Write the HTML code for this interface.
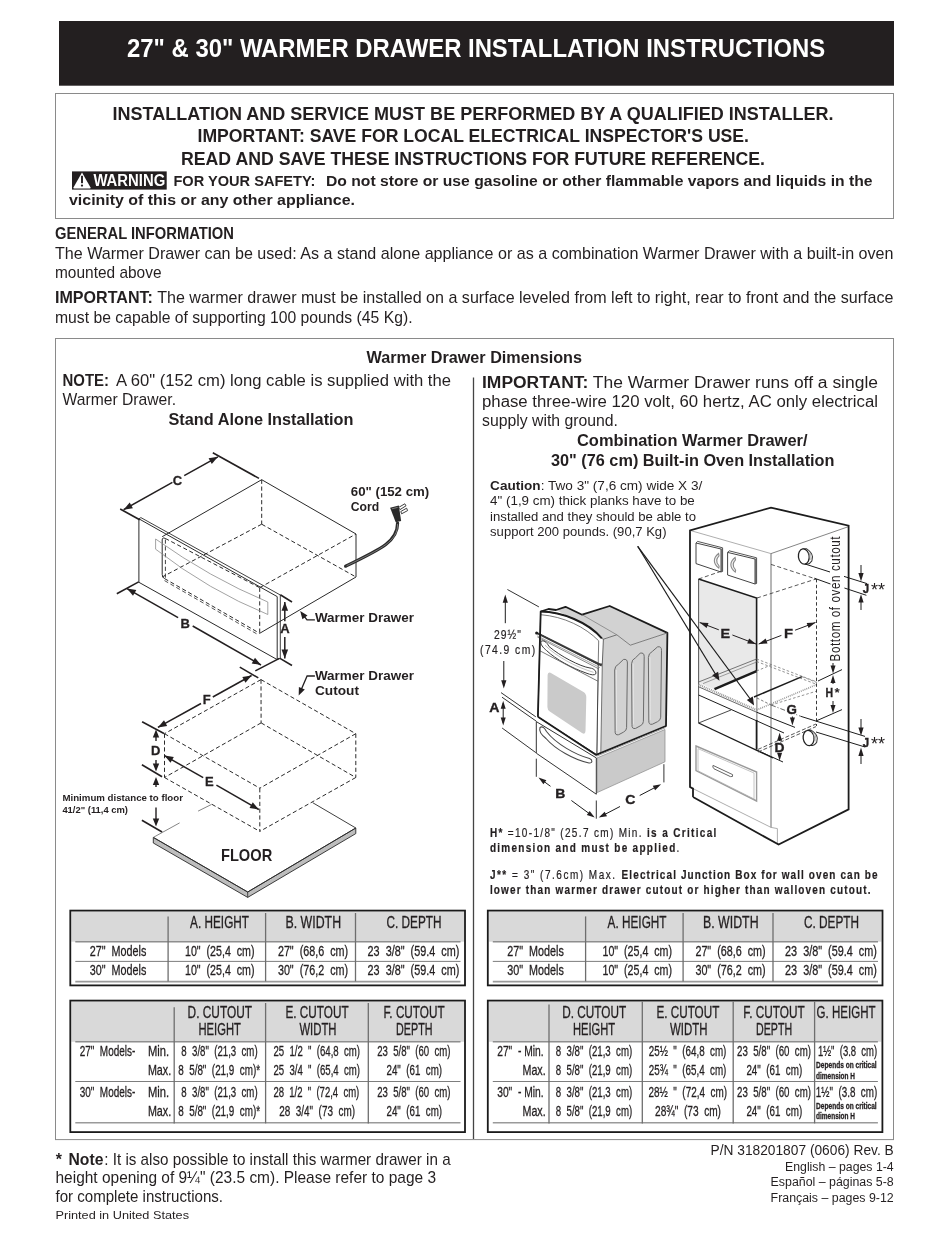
<!DOCTYPE html>
<html><head><meta charset="utf-8"><title>27" &amp; 30" Warmer Drawer Installation Instructions</title>
<style>
html,body{margin:0;padding:0;background:#fff;}
body{width:950px;height:1240px;overflow:hidden;font-family:"Liberation Sans",sans-serif;}
svg{display:block;will-change:transform;font-family:"Liberation Sans",sans-serif;}
text{white-space:pre;}
</style></head><body>
<svg width="950" height="1240" viewBox="0 0 950 1240">
<rect x="59" y="21" width="835" height="64.7" fill="#231f20"/>
<text x="127.0" y="56.7" font-size="26.2" font-weight="bold" fill="#fff" textLength="698.2" lengthAdjust="spacingAndGlyphs" >27" &amp; 30" WARMER DRAWER INSTALLATION INSTRUCTIONS</text>
<rect x="55.5" y="93.5" width="838" height="125" fill="none" stroke="#8a8a8a" stroke-width="1"/>
<text x="112.5" y="119.6" font-size="18.2" font-weight="bold" fill="#231f20" textLength="721.0" lengthAdjust="spacingAndGlyphs" >INSTALLATION AND SERVICE MUST BE PERFORMED BY A QUALIFIED INSTALLER.</text>
<text x="197.5" y="142.4" font-size="18.2" font-weight="bold" fill="#231f20" textLength="551.5" lengthAdjust="spacingAndGlyphs" >IMPORTANT: SAVE FOR LOCAL ELECTRICAL INSPECTOR'S USE.</text>
<text x="181.0" y="165.2" font-size="18.2" font-weight="bold" fill="#231f20" textLength="584.0" lengthAdjust="spacingAndGlyphs" >READ AND SAVE THESE INSTRUCTIONS FOR FUTURE REFERENCE.</text>
<rect x="72" y="171.4" width="94.7" height="18.2" fill="#231f20"/>
<path d="M82,172.6 L90.4,187.2 Q91,188.5 89.8,188.5 L74.2,188.5 Q73,188.5 73.6,187.2 Z" fill="#fff"/>
<rect x="81.05" y="175.8" width="1.9" height="7.4" fill="#231f20"/><circle cx="82" cy="185.6" r="1.15" fill="#231f20"/>
<text x="93.4" y="185.9" font-size="15.8" font-weight="bold" fill="#fff" textLength="71.8" lengthAdjust="spacingAndGlyphs" >WARNING</text>
<text x="173.4" y="186.1" font-size="15.2" font-weight="bold" fill="#231f20" textLength="142.1" lengthAdjust="spacingAndGlyphs" >FOR YOUR SAFETY:</text>
<text x="326.0" y="186.1" font-size="15.2" font-weight="bold" fill="#231f20" textLength="546.5" lengthAdjust="spacingAndGlyphs" >Do not store or use gasoline or other flammable vapors and liquids in the</text>
<text x="69.0" y="205.2" font-size="15" font-weight="bold" fill="#231f20" textLength="286.0" lengthAdjust="spacingAndGlyphs" >vicinity of this or any other appliance.</text>
<text x="55.0" y="239.2" font-size="15.9" font-weight="bold" fill="#231f20" textLength="179.0" lengthAdjust="spacingAndGlyphs" >GENERAL INFORMATION</text>
<text x="55.0" y="258.7" font-size="15.9" font-weight="normal" fill="#231f20" textLength="838.5" lengthAdjust="spacingAndGlyphs" >The Warmer Drawer can be used: As a stand alone appliance or as a combination Warmer Drawer with a built-in oven</text>
<text x="55.0" y="277.6" font-size="15.9" font-weight="normal" fill="#231f20" textLength="106.5" lengthAdjust="spacingAndGlyphs" >mounted above</text>
<text x="55.0" y="303.2" font-size="15.9" font-weight="normal" fill="#231f20" textLength="838.5" lengthAdjust="spacingAndGlyphs" ><tspan font-weight="bold">IMPORTANT:</tspan> The warmer drawer must be installed on a surface leveled from left to right, rear to front and the surface</text>
<text x="55.0" y="322.6" font-size="15.9" font-weight="normal" fill="#231f20" textLength="357.5" lengthAdjust="spacingAndGlyphs" >must be capable of supporting 100 pounds (45 Kg).</text>
<rect x="55.5" y="338.5" width="838" height="801.1" fill="none" stroke="#8a8a8a" stroke-width="1"/>
<line x1="473.5" y1="377.6" x2="473.5" y2="1139.0" stroke="#444" stroke-width="1.3" stroke-linecap="butt"/>
<text x="366.5" y="362.5" font-size="16.5" font-weight="bold" fill="#231f20" textLength="215.5" lengthAdjust="spacingAndGlyphs" >Warmer Drawer Dimensions</text>
<text x="62.5" y="386.0" font-size="15.9" font-weight="bold" fill="#231f20" textLength="46.5" lengthAdjust="spacingAndGlyphs" >NOTE:</text>
<text x="116.0" y="386.0" font-size="15.9" font-weight="normal" fill="#231f20" textLength="335.0" lengthAdjust="spacingAndGlyphs" >A 60" (152 cm) long cable is supplied with the</text>
<text x="62.5" y="405.0" font-size="15.9" font-weight="normal" fill="#231f20" textLength="113.5" lengthAdjust="spacingAndGlyphs" >Warmer Drawer.</text>
<text x="168.5" y="424.5" font-size="16.5" font-weight="bold" fill="#231f20" textLength="185.0" lengthAdjust="spacingAndGlyphs" >Stand Alone Installation</text>
<text x="482.0" y="387.5" font-size="16" font-weight="normal" fill="#231f20" textLength="396.0" lengthAdjust="spacingAndGlyphs" ><tspan font-weight="bold">IMPORTANT:</tspan> The Warmer Drawer runs off a single</text>
<text x="482.0" y="407.0" font-size="16" font-weight="normal" fill="#231f20" textLength="396.0" lengthAdjust="spacingAndGlyphs" >phase three-wire 120 volt, 60 hertz, AC only electrical</text>
<text x="482.0" y="426.0" font-size="16" font-weight="normal" fill="#231f20" textLength="136.0" lengthAdjust="spacingAndGlyphs" >supply with ground.</text>
<text x="577.0" y="446.0" font-size="16.5" font-weight="bold" fill="#231f20" textLength="230.5" lengthAdjust="spacingAndGlyphs" >Combination Warmer Drawer/</text>
<text x="551.0" y="465.5" font-size="16.5" font-weight="bold" fill="#231f20" textLength="283.5" lengthAdjust="spacingAndGlyphs" >30" (76 cm) Built-in Oven Installation</text>
<text x="55.8" y="1164.7" font-size="15.9" font-weight="bold" fill="#231f20">*</text>
<text x="68.5" y="1164.7" font-size="15.9" font-weight="bold" fill="#231f20" textLength="34.9" lengthAdjust="spacingAndGlyphs" >Note</text>
<text x="104.3" y="1164.7" font-size="15.9" font-weight="normal" fill="#231f20" textLength="346.3" lengthAdjust="spacingAndGlyphs" >: It is also possible to install this warmer drawer in a</text>
<text x="55.5" y="1183.2" font-size="15.9" font-weight="normal" fill="#231f20" textLength="380.5" lengthAdjust="spacingAndGlyphs" >height opening of 9¼" (23.5 cm). Please refer to page 3</text>
<text x="55.5" y="1202.2" font-size="15.9" font-weight="normal" fill="#231f20" textLength="167.5" lengthAdjust="spacingAndGlyphs" >for complete instructions.</text>
<text x="55.5" y="1218.9" font-size="11" font-weight="normal" fill="#231f20" textLength="133.5" lengthAdjust="spacingAndGlyphs" >Printed in United States</text>
<text x="710.5" y="1155.0" font-size="14" font-weight="normal" fill="#231f20" textLength="183.2" lengthAdjust="spacingAndGlyphs" >P/N 318201807 (0606) Rev. B</text>
<text x="785.0" y="1171.3" font-size="12" font-weight="normal" fill="#231f20" textLength="108.7" lengthAdjust="spacingAndGlyphs" >English – pages 1-4</text>
<text x="770.6" y="1186.0" font-size="12" font-weight="normal" fill="#231f20" textLength="123.1" lengthAdjust="spacingAndGlyphs" >Español – páginas 5-8</text>
<text x="770.6" y="1201.8" font-size="12" font-weight="normal" fill="#231f20" textLength="123.1" lengthAdjust="spacingAndGlyphs" >Français – pages 9-12</text>
<g stroke="#231f20" stroke-width="0.3">
<rect x="71.3" y="911.6" width="392.7" height="30.1" fill="#d9d9d9" stroke="none"/>
<rect x="70.3" y="910.6" width="394.7" height="74.8" fill="none" stroke="#1a1a1a" stroke-width="1.8"/>
<line x1="75.3" y1="941.7" x2="460.5" y2="941.7" stroke="#8e8e8e" stroke-width="1.6" stroke-linecap="butt"/>
<line x1="75.3" y1="961.4" x2="460.5" y2="961.4" stroke="#6e6e6e" stroke-width="0.9" stroke-linecap="butt"/>
<line x1="75.3" y1="981.6" x2="460.5" y2="981.6" stroke="#9a9a9a" stroke-width="1.6" stroke-linecap="butt"/>
<line x1="168.1" y1="916.4" x2="168.1" y2="981.4" stroke="#6e6e6e" stroke-width="1.3" stroke-linecap="butt"/>
<line x1="265.6" y1="913.0" x2="265.6" y2="981.4" stroke="#6e6e6e" stroke-width="1.3" stroke-linecap="butt"/>
<line x1="355.5" y1="913.0" x2="355.5" y2="981.4" stroke="#6e6e6e" stroke-width="1.3" stroke-linecap="butt"/>
<text x="190.1" y="928.3" font-size="15.6" font-weight="normal" fill="#231f20" textLength="58.9" lengthAdjust="spacingAndGlyphs" >A. HEIGHT</text>
<text x="285.5" y="928.3" font-size="15.6" font-weight="normal" fill="#231f20" textLength="55.6" lengthAdjust="spacingAndGlyphs" >B. WIDTH</text>
<text x="386.5" y="928.3" font-size="15.6" font-weight="normal" fill="#231f20" textLength="55.1" lengthAdjust="spacingAndGlyphs" >C. DEPTH</text>
<text x="89.8" y="955.6" font-size="14.8" font-weight="normal" fill="#231f20" textLength="56.6" lengthAdjust="spacingAndGlyphs" >27"  Models</text>
<text x="185.0" y="955.6" font-size="14.8" font-weight="normal" fill="#231f20" textLength="69.5" lengthAdjust="spacingAndGlyphs" >10"  (25,4  cm)</text>
<text x="277.9" y="955.6" font-size="14.8" font-weight="normal" fill="#231f20" textLength="70.2" lengthAdjust="spacingAndGlyphs" >27"  (68,6  cm)</text>
<text x="367.6" y="955.6" font-size="14.8" font-weight="normal" fill="#231f20" textLength="91.7" lengthAdjust="spacingAndGlyphs" >23  3/8"  (59.4  cm)</text>
<text x="89.8" y="975.0" font-size="14.8" font-weight="normal" fill="#231f20" textLength="56.6" lengthAdjust="spacingAndGlyphs" >30"  Models</text>
<text x="185.0" y="975.0" font-size="14.8" font-weight="normal" fill="#231f20" textLength="69.5" lengthAdjust="spacingAndGlyphs" >10"  (25,4  cm)</text>
<text x="277.9" y="975.0" font-size="14.8" font-weight="normal" fill="#231f20" textLength="70.2" lengthAdjust="spacingAndGlyphs" >30"  (76,2  cm)</text>
<text x="367.6" y="975.0" font-size="14.8" font-weight="normal" fill="#231f20" textLength="91.7" lengthAdjust="spacingAndGlyphs" >23  3/8"  (59.4  cm)</text>
<rect x="488.8" y="911.6" width="392.7" height="30.1" fill="#d9d9d9" stroke="none"/>
<rect x="487.8" y="910.6" width="394.7" height="74.8" fill="none" stroke="#1a1a1a" stroke-width="1.8"/>
<line x1="492.8" y1="941.7" x2="878.0" y2="941.7" stroke="#8e8e8e" stroke-width="1.6" stroke-linecap="butt"/>
<line x1="492.8" y1="961.4" x2="878.0" y2="961.4" stroke="#6e6e6e" stroke-width="0.9" stroke-linecap="butt"/>
<line x1="492.8" y1="981.6" x2="878.0" y2="981.6" stroke="#9a9a9a" stroke-width="1.6" stroke-linecap="butt"/>
<line x1="585.6" y1="916.4" x2="585.6" y2="981.4" stroke="#6e6e6e" stroke-width="1.3" stroke-linecap="butt"/>
<line x1="683.1" y1="913.0" x2="683.1" y2="981.4" stroke="#6e6e6e" stroke-width="1.3" stroke-linecap="butt"/>
<line x1="773.0" y1="913.0" x2="773.0" y2="981.4" stroke="#6e6e6e" stroke-width="1.3" stroke-linecap="butt"/>
<text x="607.6" y="928.3" font-size="15.6" font-weight="normal" fill="#231f20" textLength="58.9" lengthAdjust="spacingAndGlyphs" >A. HEIGHT</text>
<text x="703.0" y="928.3" font-size="15.6" font-weight="normal" fill="#231f20" textLength="55.6" lengthAdjust="spacingAndGlyphs" >B. WIDTH</text>
<text x="804.0" y="928.3" font-size="15.6" font-weight="normal" fill="#231f20" textLength="55.1" lengthAdjust="spacingAndGlyphs" >C. DEPTH</text>
<text x="507.3" y="955.6" font-size="14.8" font-weight="normal" fill="#231f20" textLength="56.6" lengthAdjust="spacingAndGlyphs" >27"  Models</text>
<text x="602.5" y="955.6" font-size="14.8" font-weight="normal" fill="#231f20" textLength="69.5" lengthAdjust="spacingAndGlyphs" >10"  (25,4  cm)</text>
<text x="695.4" y="955.6" font-size="14.8" font-weight="normal" fill="#231f20" textLength="70.2" lengthAdjust="spacingAndGlyphs" >27"  (68,6  cm)</text>
<text x="785.1" y="955.6" font-size="14.8" font-weight="normal" fill="#231f20" textLength="91.7" lengthAdjust="spacingAndGlyphs" >23  3/8"  (59.4  cm)</text>
<text x="507.3" y="975.0" font-size="14.8" font-weight="normal" fill="#231f20" textLength="56.6" lengthAdjust="spacingAndGlyphs" >30"  Models</text>
<text x="602.5" y="975.0" font-size="14.8" font-weight="normal" fill="#231f20" textLength="69.5" lengthAdjust="spacingAndGlyphs" >10"  (25,4  cm)</text>
<text x="695.4" y="975.0" font-size="14.8" font-weight="normal" fill="#231f20" textLength="70.2" lengthAdjust="spacingAndGlyphs" >30"  (76,2  cm)</text>
<text x="785.1" y="975.0" font-size="14.8" font-weight="normal" fill="#231f20" textLength="91.7" lengthAdjust="spacingAndGlyphs" >23  3/8"  (59.4  cm)</text>
<rect x="71.3" y="1001.6" width="392.7" height="40.2" fill="#d9d9d9" stroke="none"/>
<rect x="70.3" y="1000.6" width="394.7" height="131.5" fill="none" stroke="#1a1a1a" stroke-width="1.8"/>
<line x1="75.3" y1="1041.8" x2="460.5" y2="1041.8" stroke="#8e8e8e" stroke-width="1.6" stroke-linecap="butt"/>
<line x1="75.3" y1="1081.5" x2="460.5" y2="1081.5" stroke="#6e6e6e" stroke-width="0.9" stroke-linecap="butt"/>
<line x1="75.3" y1="1122.8" x2="460.5" y2="1122.8" stroke="#9a9a9a" stroke-width="1.6" stroke-linecap="butt"/>
<line x1="174.2" y1="1007.2" x2="174.2" y2="1123.4" stroke="#6e6e6e" stroke-width="1.3" stroke-linecap="butt"/>
<line x1="265.6" y1="1003.0" x2="265.6" y2="1123.4" stroke="#6e6e6e" stroke-width="1.3" stroke-linecap="butt"/>
<line x1="368.3" y1="1003.0" x2="368.3" y2="1123.4" stroke="#6e6e6e" stroke-width="1.3" stroke-linecap="butt"/>
<text x="187.6" y="1017.8" font-size="15.6" font-weight="normal" fill="#231f20" textLength="64.4" lengthAdjust="spacingAndGlyphs" >D. CUTOUT</text>
<text x="198.5" y="1035.0" font-size="15.6" font-weight="normal" fill="#231f20" textLength="42.4" lengthAdjust="spacingAndGlyphs" >HEIGHT</text>
<text x="285.5" y="1017.8" font-size="15.6" font-weight="normal" fill="#231f20" textLength="63.1" lengthAdjust="spacingAndGlyphs" >E. CUTOUT</text>
<text x="299.4" y="1035.0" font-size="15.6" font-weight="normal" fill="#231f20" textLength="37.1" lengthAdjust="spacingAndGlyphs" >WIDTH</text>
<text x="383.5" y="1017.8" font-size="15.6" font-weight="normal" fill="#231f20" textLength="61.1" lengthAdjust="spacingAndGlyphs" >F. CUTOUT</text>
<text x="396.1" y="1035.0" font-size="15.6" font-weight="normal" fill="#231f20" textLength="36.4" lengthAdjust="spacingAndGlyphs" >DEPTH</text>
<text x="79.7" y="1056.2" font-size="14.8" font-weight="normal" fill="#231f20" textLength="55.6" lengthAdjust="spacingAndGlyphs" >27"  Models-</text>
<text x="147.9" y="1056.2" font-size="14.8" font-weight="normal" fill="#231f20" textLength="21.2" lengthAdjust="spacingAndGlyphs" >Min.</text>
<text x="181.3" y="1056.2" font-size="14.8" font-weight="normal" fill="#231f20" textLength="76.3" lengthAdjust="spacingAndGlyphs" >8  3/8"  (21,3  cm)</text>
<text x="273.4" y="1056.2" font-size="14.8" font-weight="normal" fill="#231f20" textLength="86.6" lengthAdjust="spacingAndGlyphs" >25  1/2  "  (64,8  cm)</text>
<text x="377.2" y="1056.2" font-size="14.8" font-weight="normal" fill="#231f20" textLength="73.3" lengthAdjust="spacingAndGlyphs" >23  5/8"  (60  cm)</text>
<text x="147.9" y="1074.6" font-size="14.8" font-weight="normal" fill="#231f20" textLength="23.3" lengthAdjust="spacingAndGlyphs" >Max.</text>
<text x="178.2" y="1074.6" font-size="14.8" font-weight="normal" fill="#231f20" textLength="81.9" lengthAdjust="spacingAndGlyphs" >8  5/8"  (21,9  cm)*</text>
<text x="273.4" y="1074.6" font-size="14.8" font-weight="normal" fill="#231f20" textLength="86.6" lengthAdjust="spacingAndGlyphs" >25  3/4  "  (65,4  cm)</text>
<text x="386.5" y="1074.6" font-size="14.8" font-weight="normal" fill="#231f20" textLength="55.6" lengthAdjust="spacingAndGlyphs" >24"  (61  cm)</text>
<text x="79.7" y="1096.6" font-size="14.8" font-weight="normal" fill="#231f20" textLength="55.6" lengthAdjust="spacingAndGlyphs" >30"  Models-</text>
<text x="147.9" y="1096.6" font-size="14.8" font-weight="normal" fill="#231f20" textLength="21.2" lengthAdjust="spacingAndGlyphs" >Min.</text>
<text x="181.3" y="1096.6" font-size="14.8" font-weight="normal" fill="#231f20" textLength="76.3" lengthAdjust="spacingAndGlyphs" >8  3/8"  (21,3  cm)</text>
<text x="273.4" y="1096.6" font-size="14.8" font-weight="normal" fill="#231f20" textLength="85.9" lengthAdjust="spacingAndGlyphs" >28  1/2  "  (72,4  cm)</text>
<text x="377.2" y="1096.6" font-size="14.8" font-weight="normal" fill="#231f20" textLength="73.3" lengthAdjust="spacingAndGlyphs" >23  5/8"  (60  cm)</text>
<text x="147.9" y="1115.8" font-size="14.8" font-weight="normal" fill="#231f20" textLength="23.3" lengthAdjust="spacingAndGlyphs" >Max.</text>
<text x="178.2" y="1115.8" font-size="14.8" font-weight="normal" fill="#231f20" textLength="81.9" lengthAdjust="spacingAndGlyphs" >8  5/8"  (21,9  cm)*</text>
<text x="279.2" y="1115.8" font-size="14.8" font-weight="normal" fill="#231f20" textLength="75.8" lengthAdjust="spacingAndGlyphs" >28  3/4"  (73  cm)</text>
<text x="386.5" y="1115.8" font-size="14.8" font-weight="normal" fill="#231f20" textLength="55.6" lengthAdjust="spacingAndGlyphs" >24"  (61  cm)</text>
<rect x="488.8" y="1001.6" width="392.6" height="40.2" fill="#d9d9d9" stroke="none"/>
<rect x="487.8" y="1000.6" width="394.6" height="131.5" fill="none" stroke="#1a1a1a" stroke-width="1.8"/>
<line x1="492.8" y1="1041.8" x2="877.9" y2="1041.8" stroke="#8e8e8e" stroke-width="1.6" stroke-linecap="butt"/>
<line x1="492.8" y1="1081.5" x2="877.9" y2="1081.5" stroke="#6e6e6e" stroke-width="0.9" stroke-linecap="butt"/>
<line x1="492.8" y1="1122.8" x2="877.9" y2="1122.8" stroke="#9a9a9a" stroke-width="1.6" stroke-linecap="butt"/>
<line x1="549.0" y1="1004.5" x2="549.0" y2="1123.4" stroke="#6e6e6e" stroke-width="1.3" stroke-linecap="butt"/>
<line x1="642.3" y1="1001.6" x2="642.3" y2="1123.4" stroke="#6e6e6e" stroke-width="1.3" stroke-linecap="butt"/>
<line x1="733.2" y1="1001.6" x2="733.2" y2="1123.4" stroke="#6e6e6e" stroke-width="1.3" stroke-linecap="butt"/>
<line x1="814.6" y1="1001.6" x2="814.6" y2="1123.4" stroke="#6e6e6e" stroke-width="1.3" stroke-linecap="butt"/>
<text x="562.2" y="1017.8" font-size="15.6" font-weight="normal" fill="#231f20" textLength="63.9" lengthAdjust="spacingAndGlyphs" >D. CUTOUT</text>
<text x="573.0" y="1035.0" font-size="15.6" font-weight="normal" fill="#231f20" textLength="42.2" lengthAdjust="spacingAndGlyphs" >HEIGHT</text>
<text x="656.4" y="1017.8" font-size="15.6" font-weight="normal" fill="#231f20" textLength="62.9" lengthAdjust="spacingAndGlyphs" >E. CUTOUT</text>
<text x="670.0" y="1035.0" font-size="15.6" font-weight="normal" fill="#231f20" textLength="37.4" lengthAdjust="spacingAndGlyphs" >WIDTH</text>
<text x="743.3" y="1017.8" font-size="15.6" font-weight="normal" fill="#231f20" textLength="61.4" lengthAdjust="spacingAndGlyphs" >F. CUTOUT</text>
<text x="756.0" y="1035.0" font-size="15.6" font-weight="normal" fill="#231f20" textLength="36.1" lengthAdjust="spacingAndGlyphs" >DEPTH</text>
<text x="816.6" y="1017.8" font-size="15.6" font-weight="normal" fill="#231f20" textLength="58.9" lengthAdjust="spacingAndGlyphs" >G. HEIGHT</text>
<text x="497.2" y="1056.2" font-size="14.8" font-weight="normal" fill="#231f20" textLength="46.5" lengthAdjust="spacingAndGlyphs" >27"  - Min.</text>
<text x="555.8" y="1056.2" font-size="14.8" font-weight="normal" fill="#231f20" textLength="76.4" lengthAdjust="spacingAndGlyphs" >8  3/8"  (21,3  cm)</text>
<text x="648.8" y="1056.2" font-size="14.8" font-weight="normal" fill="#231f20" textLength="77.6" lengthAdjust="spacingAndGlyphs" >25½  "  (64,8  cm)</text>
<text x="737.0" y="1056.2" font-size="14.8" font-weight="normal" fill="#231f20" textLength="74.0" lengthAdjust="spacingAndGlyphs" >23  5/8"  (60  cm)</text>
<text x="817.9" y="1056.2" font-size="14.8" font-weight="normal" fill="#231f20" textLength="59.3" lengthAdjust="spacingAndGlyphs" >1½"  (3.8  cm)</text>
<text x="522.5" y="1074.6" font-size="14.8" font-weight="normal" fill="#231f20" textLength="23.2" lengthAdjust="spacingAndGlyphs" >Max.</text>
<text x="555.8" y="1074.6" font-size="14.8" font-weight="normal" fill="#231f20" textLength="76.4" lengthAdjust="spacingAndGlyphs" >8  5/8"  (21,9  cm)</text>
<text x="648.8" y="1074.6" font-size="14.8" font-weight="normal" fill="#231f20" textLength="77.6" lengthAdjust="spacingAndGlyphs" >25¾  "  (65,4  cm)</text>
<text x="746.4" y="1074.6" font-size="14.8" font-weight="normal" fill="#231f20" textLength="55.8" lengthAdjust="spacingAndGlyphs" >24"  (61  cm)</text>
<text x="497.2" y="1096.6" font-size="14.8" font-weight="normal" fill="#231f20" textLength="46.5" lengthAdjust="spacingAndGlyphs" >30"  - Min.</text>
<text x="555.8" y="1096.6" font-size="14.8" font-weight="normal" fill="#231f20" textLength="76.4" lengthAdjust="spacingAndGlyphs" >8  3/8"  (21,3  cm)</text>
<text x="648.5" y="1096.6" font-size="14.8" font-weight="normal" fill="#231f20" textLength="78.5" lengthAdjust="spacingAndGlyphs" >28½  "  (72,4  cm)</text>
<text x="737.0" y="1096.6" font-size="14.8" font-weight="normal" fill="#231f20" textLength="74.0" lengthAdjust="spacingAndGlyphs" >23  5/8"  (60  cm)</text>
<text x="815.8" y="1096.6" font-size="14.8" font-weight="normal" fill="#231f20" textLength="61.4" lengthAdjust="spacingAndGlyphs" >1½"  (3.8  cm)</text>
<text x="522.5" y="1115.8" font-size="14.8" font-weight="normal" fill="#231f20" textLength="23.2" lengthAdjust="spacingAndGlyphs" >Max.</text>
<text x="555.8" y="1115.8" font-size="14.8" font-weight="normal" fill="#231f20" textLength="76.4" lengthAdjust="spacingAndGlyphs" >8  5/8"  (21,9  cm)</text>
<text x="655.0" y="1115.8" font-size="14.8" font-weight="normal" fill="#231f20" textLength="66.0" lengthAdjust="spacingAndGlyphs" >28¾"  (73  cm)</text>
<text x="746.4" y="1115.8" font-size="14.8" font-weight="normal" fill="#231f20" textLength="55.8" lengthAdjust="spacingAndGlyphs" >24"  (61  cm)</text>
<text x="816.1" y="1068.3" font-size="8.3" font-weight="bold" fill="#231f20" textLength="60.6" lengthAdjust="spacingAndGlyphs" >Depends on critical</text>
<text x="816.1" y="1079.0" font-size="8.3" font-weight="bold" fill="#231f20" textLength="38.9" lengthAdjust="spacingAndGlyphs" >dimension H</text>
<text x="816.1" y="1108.7" font-size="8.3" font-weight="bold" fill="#231f20" textLength="60.6" lengthAdjust="spacingAndGlyphs" >Depends on critical</text>
<text x="816.1" y="1119.4" font-size="8.3" font-weight="bold" fill="#231f20" textLength="38.9" lengthAdjust="spacingAndGlyphs" >dimension H</text>
</g>
<line x1="162.2" y1="536.7" x2="261.7" y2="479.7" stroke="#2a2a2a" stroke-width="1.0" stroke-linecap="butt"/>
<line x1="261.7" y1="479.7" x2="356.0" y2="534.0" stroke="#2a2a2a" stroke-width="1.0" stroke-linecap="butt"/>
<line x1="356.0" y1="534.0" x2="356.0" y2="577.0" stroke="#2a2a2a" stroke-width="1.0" stroke-linecap="butt"/>
<line x1="356.0" y1="577.0" x2="259.7" y2="633.3" stroke="#2a2a2a" stroke-width="1.0" stroke-linecap="butt"/>
<line x1="261.7" y1="479.7" x2="261.7" y2="524.2" stroke="#2a2a2a" stroke-width="1.0" stroke-dasharray="4.2 2.6" stroke-linecap="butt"/>
<line x1="261.7" y1="524.2" x2="162.2" y2="577.0" stroke="#2a2a2a" stroke-width="1.0" stroke-dasharray="4.2 2.6" stroke-linecap="butt"/>
<line x1="261.7" y1="524.2" x2="356.0" y2="577.0" stroke="#2a2a2a" stroke-width="1.0" stroke-dasharray="4.2 2.6" stroke-linecap="butt"/>
<line x1="259.7" y1="587.7" x2="356.0" y2="534.0" stroke="#2a2a2a" stroke-width="1.0" stroke-dasharray="4.2 2.6" stroke-linecap="butt"/>
<line x1="259.7" y1="587.7" x2="259.7" y2="633.3" stroke="#2a2a2a" stroke-width="1.0" stroke-dasharray="4.2 2.6" stroke-linecap="butt"/>
<path d="M165.2,538.4 Q162.2,537 162.2,540 L162.2,574.5 Q162.2,577.6 164.6,578.6" stroke="#2a2a2a" stroke-width="1.0" fill="none" />
<line x1="165.2" y1="538.4" x2="259.7" y2="587.7" stroke="#2a2a2a" stroke-width="1.0" stroke-dasharray="4.2 2.6" stroke-linecap="butt"/>
<line x1="164.6" y1="578.6" x2="259.7" y2="633.3" stroke="#2a2a2a" stroke-width="1.0" stroke-dasharray="4.2 2.6" stroke-linecap="butt"/>
<line x1="165.4" y1="539.5" x2="165.4" y2="578.5" stroke="#2a2a2a" stroke-width="0.9" stroke-dasharray="4.2 2.6" stroke-linecap="butt"/>
<line x1="164.5" y1="580.6" x2="258.0" y2="634.6" stroke="#2a2a2a" stroke-width="0.8" stroke-dasharray="4.2 2.6" stroke-linecap="butt"/>
<path d="M138.9,518.8 L277.2,596.6 L277.2,659.6 L138.9,582.3 Z" stroke="#2a2a2a" stroke-width="1.0" fill="none" stroke-linejoin="miter"/>
<path d="M138.9,518.8 L140.9,517.6 L280.3,595.0 L280.3,658.2 L277.2,659.6" stroke="#2a2a2a" stroke-width="0.9" fill="none" stroke-linejoin="miter"/>
<path d="M155.6,539 Q209.5,577.5 267.8,602 L267.8,614.5 Q209,590.5 155.6,549.2 Z" stroke="#8c8c8c" stroke-width="0.8" fill="none" />
<path d="M397.6,523 C397.6,541 383,548 345.6,566.2" stroke="#2a2a2a" stroke-width="3.2" fill="none" stroke-linecap="round"/>
<path d="M397.6,524 C397.6,541 383,548 346.5,565.8" stroke="#9a9a9a" stroke-width="0.7" fill="none" />
<g transform="translate(396,514) rotate(-14)"><path d="M-4.2,-7.5 L4.8,-7.5 L3.3,8 L-2.3,8 Z" fill="#2a2a2a"/><path d="M-2.8,-6 L3.2,-6" stroke="#888" stroke-width="0.8"/></g>
<path d="M398.5,507.5 L404.8,503.8 L406,505.8 L400,509.6 Z M400.8,511.5 L406.6,508.2 L407.6,510.6 L401.6,513.8 Z" stroke="#2a2a2a" stroke-width="0.9" fill="#fff" />
<text x="350.8" y="496.1" font-size="12.4" font-weight="bold" fill="#231f20" textLength="78.4" lengthAdjust="spacingAndGlyphs" >60" (152 cm)</text>
<text x="350.8" y="511.3" font-size="12.4" font-weight="bold" fill="#231f20" textLength="28.5" lengthAdjust="spacingAndGlyphs" >Cord</text>
<line x1="212.8" y1="452.8" x2="259.0" y2="478.4" stroke="#231f20" stroke-width="1.6" stroke-linecap="butt"/>
<line x1="120.2" y1="509.0" x2="139.7" y2="519.8" stroke="#231f20" stroke-width="1.6" stroke-linecap="butt"/>
<line x1="217.9" y1="456.8" x2="184.2" y2="475.7" stroke="#231f20" stroke-width="1.5" stroke-linecap="butt"/>
<line x1="172.4" y1="482.4" x2="123.6" y2="509.7" stroke="#231f20" stroke-width="1.5" stroke-linecap="butt"/>
<polygon points="217.9,456.8 211.8,464.0 208.6,458.2" fill="#231f20"/>
<polygon points="123.6,509.7 129.7,502.5 132.9,508.3" fill="#231f20"/>
<text x="177.5" y="485.0" font-size="13" font-weight="bold" fill="#231f20" text-anchor="middle" stroke="#231f20" stroke-width="0.3">C</text>
<line x1="116.8" y1="593.7" x2="138.7" y2="581.9" stroke="#231f20" stroke-width="1.6" stroke-linecap="butt"/>
<line x1="255.3" y1="670.9" x2="279.4" y2="658.4" stroke="#231f20" stroke-width="1.6" stroke-linecap="butt"/>
<line x1="127.0" y1="588.6" x2="178.1" y2="617.7" stroke="#231f20" stroke-width="1.5" stroke-linecap="butt"/>
<line x1="192.7" y1="626.0" x2="261.0" y2="665.0" stroke="#231f20" stroke-width="1.5" stroke-linecap="butt"/>
<polygon points="127.0,588.6 136.3,590.1 133.0,595.8" fill="#231f20"/>
<polygon points="261.0,665.0 251.7,663.5 255.0,657.8" fill="#231f20"/>
<text x="185.2" y="627.8" font-size="13" font-weight="bold" fill="#231f20" text-anchor="middle" stroke="#231f20" stroke-width="0.3">B</text>
<line x1="280.3" y1="594.8" x2="292.0" y2="602.0" stroke="#231f20" stroke-width="1.6" stroke-linecap="butt"/>
<line x1="280.0" y1="658.4" x2="292.0" y2="665.5" stroke="#231f20" stroke-width="1.6" stroke-linecap="butt"/>
<line x1="284.8" y1="602.0" x2="284.8" y2="621.2" stroke="#231f20" stroke-width="1.5" stroke-linecap="butt"/>
<line x1="284.8" y1="637.0" x2="284.8" y2="658.4" stroke="#231f20" stroke-width="1.5" stroke-linecap="butt"/>
<polygon points="284.8,602.0 288.1,610.8 281.5,610.8" fill="#231f20"/>
<polygon points="284.8,658.4 281.5,649.6 288.1,649.6" fill="#231f20"/>
<text x="285.0" y="632.6" font-size="13" font-weight="bold" fill="#231f20" text-anchor="middle" stroke="#231f20" stroke-width="0.3">A</text>
<text x="314.9" y="622.3" font-size="13" font-weight="bold" fill="#231f20" textLength="99.0" lengthAdjust="spacingAndGlyphs" >Warmer Drawer</text>
<path d="M314.9,619.8 L307.0,619.8 L302.0,613.5" stroke="#231f20" stroke-width="1.3" fill="none" stroke-linejoin="miter"/>
<polygon points="300.2,611.0 307.5,615.5 302.4,619.3" fill="#231f20"/>
<text x="314.9" y="679.6" font-size="13" font-weight="bold" fill="#231f20" textLength="99.0" lengthAdjust="spacingAndGlyphs" >Warmer Drawer</text>
<text x="314.9" y="694.7" font-size="13" font-weight="bold" fill="#231f20" textLength="44.1" lengthAdjust="spacingAndGlyphs" >Cutout</text>
<path d="M314.9,676.0 L307.1,676.0 L300.2,692.0" stroke="#231f20" stroke-width="1.3" fill="none" stroke-linejoin="miter"/>
<polygon points="298.7,695.6 298.9,687.0 304.8,689.5" fill="#231f20"/>
<line x1="261.0" y1="679.6" x2="164.5" y2="733.7" stroke="#2a2a2a" stroke-width="1.0" stroke-dasharray="4.2 2.6" stroke-linecap="butt"/>
<line x1="261.0" y1="679.6" x2="355.8" y2="733.7" stroke="#2a2a2a" stroke-width="1.0" stroke-dasharray="4.2 2.6" stroke-linecap="butt"/>
<line x1="261.0" y1="679.6" x2="261.1" y2="722.9" stroke="#2a2a2a" stroke-width="1.0" stroke-dasharray="4.2 2.6" stroke-linecap="butt"/>
<line x1="261.1" y1="722.9" x2="164.5" y2="777.5" stroke="#2a2a2a" stroke-width="1.0" stroke-dasharray="4.2 2.6" stroke-linecap="butt"/>
<line x1="261.1" y1="722.9" x2="355.8" y2="777.5" stroke="#2a2a2a" stroke-width="1.0" stroke-dasharray="4.2 2.6" stroke-linecap="butt"/>
<line x1="164.5" y1="733.7" x2="164.5" y2="777.5" stroke="#2a2a2a" stroke-width="1.0" stroke-dasharray="4.2 2.6" stroke-linecap="butt"/>
<line x1="355.8" y1="733.7" x2="355.8" y2="777.5" stroke="#2a2a2a" stroke-width="1.0" stroke-dasharray="4.2 2.6" stroke-linecap="butt"/>
<line x1="164.5" y1="733.7" x2="259.8" y2="788.2" stroke="#2a2a2a" stroke-width="1.0" stroke-dasharray="4.2 2.6" stroke-linecap="butt"/>
<line x1="355.8" y1="733.7" x2="259.8" y2="788.2" stroke="#2a2a2a" stroke-width="1.0" stroke-dasharray="4.2 2.6" stroke-linecap="butt"/>
<line x1="259.8" y1="788.2" x2="259.8" y2="831.4" stroke="#2a2a2a" stroke-width="1.0" stroke-dasharray="4.2 2.6" stroke-linecap="butt"/>
<line x1="164.5" y1="777.5" x2="259.8" y2="831.4" stroke="#2a2a2a" stroke-width="1.0" stroke-dasharray="4.2 2.6" stroke-linecap="butt"/>
<line x1="355.8" y1="777.5" x2="259.8" y2="831.4" stroke="#2a2a2a" stroke-width="1.0" stroke-dasharray="4.2 2.6" stroke-linecap="butt"/>
<line x1="239.8" y1="667.1" x2="258.3" y2="677.9" stroke="#231f20" stroke-width="1.6" stroke-linecap="butt"/>
<line x1="142.1" y1="721.7" x2="164.0" y2="733.5" stroke="#231f20" stroke-width="1.6" stroke-linecap="butt"/>
<line x1="251.6" y1="675.5" x2="212.8" y2="697.0" stroke="#231f20" stroke-width="1.5" stroke-linecap="butt"/>
<line x1="201.0" y1="703.5" x2="157.9" y2="727.4" stroke="#231f20" stroke-width="1.5" stroke-linecap="butt"/>
<polygon points="251.6,675.5 245.5,682.7 242.3,676.9" fill="#231f20"/>
<polygon points="157.9,727.4 164.0,720.2 167.2,726.0" fill="#231f20"/>
<text x="206.8" y="704.4" font-size="13" font-weight="bold" fill="#231f20" text-anchor="middle" stroke="#231f20" stroke-width="0.3">F</text>
<line x1="141.9" y1="764.7" x2="162.1" y2="776.8" stroke="#231f20" stroke-width="1.6" stroke-linecap="butt"/>
<line x1="156.0" y1="732.0" x2="156.0" y2="741.0" stroke="#231f20" stroke-width="1.4" stroke-linecap="butt"/>
<polygon points="156.0,729.6 159.2,737.6 152.8,737.6" fill="#231f20"/>
<line x1="156.0" y1="760.0" x2="156.0" y2="769.0" stroke="#231f20" stroke-width="1.4" stroke-linecap="butt"/>
<polygon points="156.0,771.6 152.8,763.6 159.2,763.6" fill="#231f20"/>
<text x="155.6" y="755.0" font-size="13" font-weight="bold" fill="#231f20" text-anchor="middle" stroke="#231f20" stroke-width="0.3">D</text>
<line x1="156.0" y1="780.0" x2="156.0" y2="787.0" stroke="#231f20" stroke-width="1.4" stroke-linecap="butt"/>
<polygon points="156.0,777.0 159.2,785.0 152.8,785.0" fill="#231f20"/>
<line x1="156.0" y1="807.5" x2="156.0" y2="822.0" stroke="#231f20" stroke-width="1.4" stroke-linecap="butt"/>
<polygon points="156.0,826.4 152.8,818.4 159.2,818.4" fill="#231f20"/>
<line x1="141.9" y1="820.2" x2="162.1" y2="832.0" stroke="#231f20" stroke-width="1.6" stroke-linecap="butt"/>
<text x="62.4" y="801.0" font-size="9.6" font-weight="bold" fill="#231f20" textLength="120.6" lengthAdjust="spacingAndGlyphs" >Minimum distance to floor</text>
<text x="62.4" y="812.8" font-size="9.6" font-weight="bold" fill="#231f20" textLength="65.6" lengthAdjust="spacingAndGlyphs" >41/2" (11,4 cm)</text>
<line x1="164.5" y1="755.6" x2="203.2" y2="777.7" stroke="#231f20" stroke-width="1.5" stroke-linecap="butt"/>
<line x1="216.4" y1="785.2" x2="258.8" y2="809.5" stroke="#231f20" stroke-width="1.5" stroke-linecap="butt"/>
<polygon points="164.5,755.6 173.8,757.1 170.5,762.8" fill="#231f20"/>
<polygon points="258.8,809.5 249.5,808.0 252.8,802.3" fill="#231f20"/>
<text x="209.3" y="786.4" font-size="13" font-weight="bold" fill="#231f20" text-anchor="middle" stroke="#231f20" stroke-width="0.3">E</text>
<path d="M153.3,837.4 L247.7,892.0 L355.8,828.0 L355.8,833.6 L247.7,897.4 L153.3,843.0 Z" stroke="#2a2a2a" stroke-width="0.9" fill="#bdbdbd" stroke-linejoin="miter"/>
<path d="M153.3,837.4 L247.7,892.0 L355.8,828.0" stroke="#2a2a2a" stroke-width="0.9" fill="none" stroke-linejoin="miter"/>
<line x1="247.7" y1="892.0" x2="247.7" y2="897.4" stroke="#2a2a2a" stroke-width="0.8" stroke-linecap="butt"/>
<line x1="153.3" y1="837.4" x2="179.6" y2="822.9" stroke="#666" stroke-width="0.8" stroke-linecap="butt"/>
<line x1="198.1" y1="811.1" x2="211.6" y2="804.4" stroke="#666" stroke-width="0.8" stroke-linecap="butt"/>
<line x1="355.8" y1="828.0" x2="312.7" y2="802.7" stroke="#2a2a2a" stroke-width="0.9" stroke-linecap="butt"/>
<text x="221.0" y="861.0" font-size="17" font-weight="bold" fill="#231f20" textLength="51.2" lengthAdjust="spacingAndGlyphs" >FLOOR</text>
<text x="490.1" y="489.7" font-size="12.8" font-weight="normal" fill="#231f20" textLength="212.2" lengthAdjust="spacingAndGlyphs" ><tspan font-weight="bold">Caution</tspan>: Two 3" (7,6 cm) wide X 3/</text>
<text x="490.1" y="504.9" font-size="12.8" font-weight="normal" fill="#231f20" textLength="204.7" lengthAdjust="spacingAndGlyphs" >4" (1,9 cm) thick planks have to be</text>
<text x="490.1" y="520.5" font-size="12.8" font-weight="normal" fill="#231f20" textLength="205.9" lengthAdjust="spacingAndGlyphs" >installed and they should be able to</text>
<text x="490.1" y="535.7" font-size="12.8" font-weight="normal" fill="#231f20" textLength="176.4" lengthAdjust="spacingAndGlyphs" >support 200 pounds. (90,7 Kg)</text>
<path d="M556.0,610.0 L565.5,606.8 L582.1,614.7 L609.7,606.0 L667.4,632.9 L630.3,645.2 L616.8,634.8 L603.4,639.2 L597.0,632.0 Z" stroke="#1c1c1c" stroke-width="0" fill="#d2d2d2" stroke-linejoin="miter"/>
<path d="M603.4,639.2 L616.8,634.8 L630.3,645.2 L667.4,632.9 L666.0,726.0 L597.5,754.7 L601.5,664.0 Z" stroke="#1c1c1c" stroke-width="0" fill="#d2d2d2" stroke-linejoin="miter"/>
<path d="M598.2,664.5 L602.3,663.7 L600.8,752.5 L596.8,754.7 Z" stroke="#555" stroke-width="0.8" fill="#fff" stroke-linejoin="miter"/>
<path d="M540.7,611.6 C562,612 588,622 601.8,638.4 L603.4,639.2 L602.3,663.7 L598.2,664.5 L540.1,634.4 Z" stroke="#444" stroke-width="0.8" fill="#fff" />
<path d="M540.7,614.7 C564,616.5 585,627 598.7,640.8 L598.2,664.5" stroke="#555" stroke-width="0.8" fill="none" />
<path d="M540.1,634.4 L598.2,664.5 L596.8,754.7 L537.9,716.8 Z" stroke="#333" stroke-width="0.9" fill="#fff" stroke-linejoin="miter"/>
<line x1="537.1" y1="633.2" x2="601.8" y2="665.5" stroke="#3a3a3a" stroke-width="2.0" stroke-linecap="butt"/>
<line x1="537.3" y1="635.8" x2="600.0" y2="667.6" stroke="#9a9a9a" stroke-width="0.9" stroke-linecap="butt"/>
<line x1="537.4" y1="637.0" x2="598.2" y2="668.6" stroke="#555" stroke-width="0.7" stroke-linecap="butt"/>
<circle cx="536.6" cy="633" r="1.5" fill="#1c1c1c"/>
<path d="M541,641.3 C543.5,640 546.5,641.6 549,646.5 C560,656 580,666.5 590,668 C594.5,668.5 596.5,671.5 595.8,673.8 C594.5,675.5 591,675 586,673 C572,668 556,659.5 546.5,650.5 C543,647.5 540.3,644.5 541,641.3 Z" stroke="#3c3c3c" stroke-width="1.0" fill="#fff" />
<path d="M545,645.2 C556,656.5 577,667.6 593.5,672.3" stroke="#999" stroke-width="0.6" fill="none" />
<line x1="539.7" y1="650.7" x2="597.9" y2="681.2" stroke="#555" stroke-width="0.8" stroke-linecap="butt"/>
<path d="M550.5,672.7 L583.5,692 Q586.5,694 586.3,697.5 L585.5,731 Q585.3,735 582,733 L549.8,711.5 Q547.4,709.8 547.4,707 L547.6,675 Q547.8,671.5 550.5,672.7 Z" stroke="#1c1c1c" stroke-width="0" fill="#cacaca" />
<path d="M614.7,670 Q614.7,666 618.7,664 L623.4,659.5 Q627.4,658.5 627.4,663 L626.6,727.7 Q626.6,730.7 623.4,732.2 L618.7,734.7 Q614.7,735.7 615.1,730.7 Z" stroke="#6a6a6a" stroke-width="1" fill="#d2d2d2" />
<path d="M616.3000000000001,670 L616.6,730.7" stroke="#f2f2f2" stroke-width="0.6" fill="none" />
<path d="M631.6,663.7 Q631.6,659.7 635.6,657.7 L640.2,653.2 Q644.2,652.2 644.2,656.7 L643.4000000000001,721.4 Q643.4000000000001,724.4 640.2,725.9 L635.6,728.4 Q631.6,729.4 632.0,724.4 Z" stroke="#6a6a6a" stroke-width="1" fill="#d2d2d2" />
<path d="M633.2,663.7 L633.5,724.4" stroke="#f2f2f2" stroke-width="0.6" fill="none" />
<path d="M648.4,657.4 Q648.4,653.4 652.4,651.4 L657.5,646.9 Q661.5,645.9 661.5,650.4 L660.7,717.2 Q660.7,720.2 657.5,721.7 L652.4,724.2 Q648.4,725.2 648.8,720.2 Z" stroke="#6a6a6a" stroke-width="1" fill="#d2d2d2" />
<path d="M650.0,657.4 L650.3,720.2" stroke="#f2f2f2" stroke-width="0.6" fill="none" />
<path d="M537.9,716.8 L540.7,611.6 L548.5,609.0 L556.0,610.0 L565.5,606.8 L582.1,614.7 L609.7,606.0 L667.4,632.9 L666.0,726.0 L596.2,754.9 L537.9,716.8" stroke="#1c1c1c" stroke-width="1.8" fill="none" stroke-linejoin="round"/>
<path d="M540.7,611.6 C562,612 588,622 601.8,638.4" stroke="#1c1c1c" stroke-width="2.0" fill="none" />
<line x1="603.4" y1="639.2" x2="616.8" y2="634.8" stroke="#555" stroke-width="0.8" stroke-linecap="butt"/>
<path d="M616.8,634.8 L630.3,645.2 L667.4,632.9" stroke="#666" stroke-width="0.8" fill="none" stroke-linejoin="miter"/>
<line x1="582.1" y1="614.7" x2="616.8" y2="634.8" stroke="#777" stroke-width="0.7" stroke-linecap="butt"/>
<path d="M597.1,757.9 L665.0,729.5 L665.0,761.8 L597.1,792.6 Z" stroke="#888" stroke-width="0.7" fill="#cacaca" stroke-linejoin="miter"/>
<path d="M536.3,721.6 L596.3,757.9 L596.3,794.2 L536.3,753.2 Z" stroke="#333" stroke-width="1" fill="#fff" stroke-linejoin="miter"/>
<line x1="596.6" y1="756.2" x2="665.5" y2="727.6" stroke="#888" stroke-width="0.8" stroke-linecap="butt"/>
<path d="M540,727.5 C542.5,725.5 545,728.5 546.5,731.5 C556,744 576,755 589.5,758.5 C592.5,759.5 593,763.5 589,763 C574,760 555,749 546,738.5 C541.5,735 539,730.5 540,727.5 Z" stroke="#4a4a4a" stroke-width="1.1" fill="#fff" />
<line x1="507.4" y1="589.5" x2="538.9" y2="606.9" stroke="#1c1c1c" stroke-width="0.9" stroke-linecap="butt"/>
<line x1="505.3" y1="597.0" x2="505.3" y2="623.2" stroke="#1c1c1c" stroke-width="1" stroke-linecap="butt"/>
<polygon points="505.3,594.4 507.9,602.8 502.7,602.8" fill="#231f20"/>
<line x1="503.8" y1="661.0" x2="503.8" y2="686.0" stroke="#1c1c1c" stroke-width="1" stroke-linecap="butt"/>
<polygon points="503.8,688.6 501.2,680.2 506.4,680.2" fill="#231f20"/>
<text transform="translate(494.0,638.9) scale(0.82,1)" font-size="12.6" font-weight="normal" fill="#231f20" stroke="#231f20" stroke-width="0.2" textLength="32.9" lengthAdjust="spacing">29½"</text>
<text transform="translate(480.0,653.7) scale(0.82,1)" font-size="12.6" font-weight="normal" fill="#231f20" stroke="#231f20" stroke-width="0.2" textLength="67.3" lengthAdjust="spacing">(74.9 cm)</text>
<line x1="501.0" y1="692.6" x2="535.8" y2="716.8" stroke="#1c1c1c" stroke-width="0.9" stroke-linecap="butt"/>
<line x1="502.0" y1="697.2" x2="536.3" y2="721.2" stroke="#1c1c1c" stroke-width="0.9" stroke-linecap="butt"/>
<line x1="502.1" y1="728.0" x2="535.8" y2="752.6" stroke="#1c1c1c" stroke-width="0.9" stroke-linecap="butt"/>
<line x1="503.2" y1="703.0" x2="503.2" y2="723.0" stroke="#1c1c1c" stroke-width="1" stroke-linecap="butt"/>
<polygon points="503.2,700.8 505.7,708.8 500.7,708.8" fill="#231f20"/>
<polygon points="503.2,725.6 500.7,717.6 505.7,717.6" fill="#231f20"/>
<text x="489.3" y="711.8" font-size="13" font-weight="bold" fill="#231f20" textLength="10.2" lengthAdjust="spacingAndGlyphs" stroke="#231f20" stroke-width="0.35">A</text>
<line x1="536.3" y1="758.7" x2="536.3" y2="776.8" stroke="#1c1c1c" stroke-width="0.9" stroke-linecap="butt"/>
<line x1="596.3" y1="800.5" x2="596.3" y2="818.7" stroke="#1c1c1c" stroke-width="0.9" stroke-linecap="butt"/>
<line x1="663.9" y1="764.2" x2="663.9" y2="782.4" stroke="#1c1c1c" stroke-width="0.9" stroke-linecap="butt"/>
<line x1="541.0" y1="779.3" x2="550.5" y2="786.3" stroke="#1c1c1c" stroke-width="1" stroke-linecap="butt"/>
<polygon points="538.5,777.4 546.4,780.2 543.4,784.2" fill="#231f20"/>
<line x1="571.4" y1="800.5" x2="592.3" y2="815.8" stroke="#1c1c1c" stroke-width="1" stroke-linecap="butt"/>
<polygon points="594.7,817.6 586.8,814.9 589.7,810.9" fill="#231f20"/>
<text x="555.3" y="798.2" font-size="13" font-weight="bold" fill="#231f20" textLength="10.1" lengthAdjust="spacingAndGlyphs" stroke="#231f20" stroke-width="0.35">B</text>
<line x1="601.0" y1="816.4" x2="620.0" y2="806.5" stroke="#1c1c1c" stroke-width="1" stroke-linecap="butt"/>
<polygon points="598.7,817.6 604.7,811.7 607.0,816.2" fill="#231f20"/>
<line x1="639.7" y1="795.5" x2="658.8" y2="785.5" stroke="#1c1c1c" stroke-width="1" stroke-linecap="butt"/>
<polygon points="661.1,784.3 655.1,790.2 652.8,785.7" fill="#231f20"/>
<text x="625.3" y="804.4" font-size="13" font-weight="bold" fill="#231f20" textLength="10.2" lengthAdjust="spacingAndGlyphs" stroke="#231f20" stroke-width="0.35">C</text>
<line x1="690.0" y1="530.4" x2="771.0" y2="553.6" stroke="#999" stroke-width="0.8" stroke-linecap="butt"/>
<line x1="771.0" y1="553.6" x2="848.6" y2="526.6" stroke="#777" stroke-width="0.9" stroke-linecap="butt"/>
<line x1="771.0" y1="553.6" x2="771.0" y2="827.4" stroke="#6e6e6e" stroke-width="1.0" stroke-linecap="butt"/>
<path d="M696.0,543.0 L721.0,549.0 L721.0,572.0 L696.0,563.6 Z" stroke="#444" stroke-width="1" fill="#fff" stroke-linejoin="miter"/>
<path d="M696.0,543.0 L697.5,541.4 L722.6,547.8 L722.6,571.4 L721.0,572.0" stroke="#444" stroke-width="0.9" fill="none" stroke-linejoin="miter"/>
<line x1="721.9" y1="548.4" x2="721.9" y2="571.7" stroke="#555" stroke-width="1.2" stroke-linecap="butt"/>
<path d="M718.6,553.5 Q710,560.5 718.8,568.1 Q719.6,566.0 718.6,565.1 Q714.4,560.5 719,555.9 Z" stroke="#8a8a8a" stroke-width="1.1" fill="#f4f4f4" />
<path d="M727.6,552.4 L755.0,559.0 L755.0,584.0 L727.6,575.0 Z" stroke="#444" stroke-width="1" fill="#fff" stroke-linejoin="miter"/>
<path d="M727.6,552.4 L729.1,550.8 L756.6,557.8 L756.6,583.4 L755.0,584.0" stroke="#444" stroke-width="0.9" fill="none" stroke-linejoin="miter"/>
<line x1="755.9" y1="558.4" x2="755.9" y2="583.7" stroke="#555" stroke-width="1.2" stroke-linecap="butt"/>
<path d="M735.1,557.5 Q726.5,564.5 735.3,572.1 Q736.1,570.0 735.1,569.1 Q730.9,564.5 735.5,559.9 Z" stroke="#8a8a8a" stroke-width="1.1" fill="#f4f4f4" />
<path d="M698.6,579.0 L756.6,598.0 L756.6,671.0 L714.3,689.4 L698.6,682.7 Z" stroke="#1c1c1c" stroke-width="0" fill="#e9e9e9" stroke-linejoin="miter"/>
<line x1="756.8" y1="671.0" x2="756.8" y2="721.0" stroke="#a5a5a5" stroke-width="1.6" stroke-linecap="butt"/>
<line x1="698.6" y1="579.0" x2="698.6" y2="723.0" stroke="#444" stroke-width="0.9" stroke-linecap="butt"/>
<path d="M698.6,579.0 L756.6,598.0 L756.6,671.0" stroke="#1c1c1c" stroke-width="1.6" fill="none" stroke-linejoin="miter"/>
<line x1="698.6" y1="682.0" x2="756.6" y2="659.0" stroke="#555" stroke-width="0.8" stroke-linecap="butt"/>
<line x1="703.0" y1="683.6" x2="756.6" y2="662.0" stroke="#777" stroke-width="0.7" stroke-linecap="butt"/>
<line x1="714.5" y1="689.2" x2="756.6" y2="671.2" stroke="#1c1c1c" stroke-width="2.4" stroke-linecap="butt"/>
<line x1="754.0" y1="697.0" x2="802.0" y2="676.6" stroke="#1c1c1c" stroke-width="1.5" stroke-linecap="butt"/>
<line x1="698.6" y1="684.6" x2="756.6" y2="710.0" stroke="#999" stroke-width="2.2" stroke-dasharray="1 0.9" stroke-linecap="butt"/>
<line x1="698.6" y1="686.8" x2="756.6" y2="712.2" stroke="#444" stroke-width="0.8" stroke-linecap="butt"/>
<line x1="756.6" y1="659.0" x2="817.0" y2="682.0" stroke="#777" stroke-width="0.8" stroke-dasharray="2.6 2" stroke-linecap="butt"/>
<line x1="756.6" y1="661.5" x2="817.0" y2="684.5" stroke="#777" stroke-width="0.8" stroke-dasharray="2.6 2" stroke-linecap="butt"/>
<line x1="802.0" y1="676.6" x2="817.0" y2="682.6" stroke="#777" stroke-width="0.8" stroke-dasharray="2.6 2" stroke-linecap="butt"/>
<line x1="756.6" y1="671.0" x2="771.0" y2="665.0" stroke="#777" stroke-width="0.8" stroke-dasharray="2.6 2" stroke-linecap="butt"/>
<line x1="756.6" y1="710.0" x2="817.0" y2="684.4" stroke="#999" stroke-width="1.6" stroke-dasharray="1 1" stroke-linecap="butt"/>
<line x1="771.0" y1="705.0" x2="817.0" y2="691.0" stroke="#777" stroke-width="0.8" stroke-dasharray="2.6 2" stroke-linecap="butt"/>
<line x1="757.0" y1="698.0" x2="771.0" y2="705.0" stroke="#555" stroke-width="0.8" stroke-dasharray="2.6 2" stroke-linecap="butt"/>
<line x1="771.0" y1="705.0" x2="801.0" y2="716.4" stroke="#555" stroke-width="0.9" stroke-dasharray="5 2 1 2" stroke-linecap="butt"/>
<line x1="698.6" y1="695.0" x2="784.0" y2="733.0" stroke="#1c1c1c" stroke-width="1" stroke-linecap="butt"/>
<line x1="756.6" y1="712.2" x2="795.0" y2="727.4" stroke="#1c1c1c" stroke-width="1" stroke-linecap="butt"/>
<line x1="698.6" y1="723.0" x2="731.0" y2="710.0" stroke="#333" stroke-width="0.9" stroke-linecap="butt"/>
<line x1="698.6" y1="723.0" x2="773.0" y2="758.0" stroke="#1c1c1c" stroke-width="1.3" stroke-linecap="butt"/>
<line x1="756.6" y1="750.0" x2="783.0" y2="762.0" stroke="#1c1c1c" stroke-width="1" stroke-linecap="butt"/>
<line x1="756.6" y1="720.0" x2="756.6" y2="749.6" stroke="#1c1c1c" stroke-width="1.8" stroke-linecap="butt"/>
<line x1="758.0" y1="749.4" x2="816.0" y2="724.0" stroke="#444" stroke-width="0.9" stroke-dasharray="4 2" stroke-linecap="butt"/>
<line x1="758.0" y1="752.0" x2="816.0" y2="726.6" stroke="#444" stroke-width="0.9" stroke-dasharray="4 2" stroke-linecap="butt"/>
<line x1="698.6" y1="579.0" x2="722.0" y2="571.0" stroke="#444" stroke-width="0.9" stroke-dasharray="4 2.6" stroke-linecap="butt"/>
<line x1="757.0" y1="598.0" x2="816.0" y2="579.0" stroke="#444" stroke-width="0.9" stroke-dasharray="4 2.6" stroke-linecap="butt"/>
<line x1="771.0" y1="564.4" x2="816.0" y2="579.0" stroke="#444" stroke-width="0.9" stroke-dasharray="4 2.6" stroke-linecap="butt"/>
<line x1="816.5" y1="579.0" x2="816.5" y2="726.0" stroke="#3a3a3a" stroke-width="1" stroke-dasharray="3.4 2.4" stroke-linecap="butt"/>
<g transform="translate(803.8,556.5) rotate(-8)"><path d="M0,-7.6 L3.6,-7.4 Q8.8,-3 8.6,1.5 L7.4,5.5 Q5,8 3,8 L0,7.6" fill="#fff" stroke="#333" stroke-width="1"/><ellipse cx="0" cy="0" rx="5.4" ry="7.6" fill="#fff" stroke="#222" stroke-width="1.3"/><path d="M5.6,-3.5 L5.9,4.4 M7,-2.6 L7.1,3.8" stroke="#999" stroke-width="0.7" fill="none"/></g>
<g transform="translate(808.6,738) rotate(-8)"><path d="M0,-7.6 L3.6,-7.4 Q8.8,-3 8.6,1.5 L7.4,5.5 Q5,8 3,8 L0,7.6" fill="#fff" stroke="#333" stroke-width="1"/><ellipse cx="0" cy="0" rx="5.4" ry="7.6" fill="#fff" stroke="#222" stroke-width="1.3"/><path d="M5.6,-3.5 L5.9,4.4 M7,-2.6 L7.1,3.8" stroke="#999" stroke-width="0.7" fill="none"/></g>
<line x1="805.0" y1="564.0" x2="830.0" y2="572.0" stroke="#1c1c1c" stroke-width="1" stroke-linecap="butt"/>
<line x1="844.0" y1="576.4" x2="867.0" y2="583.6" stroke="#1c1c1c" stroke-width="1" stroke-linecap="butt"/>
<line x1="814.3" y1="578.2" x2="830.5" y2="584.0" stroke="#1c1c1c" stroke-width="1" stroke-linecap="butt"/>
<line x1="844.4" y1="588.0" x2="866.4" y2="595.3" stroke="#1c1c1c" stroke-width="1" stroke-linecap="butt"/>
<line x1="861.0" y1="565.0" x2="861.0" y2="575.0" stroke="#1c1c1c" stroke-width="1" stroke-linecap="butt"/>
<polygon points="861.0,581.4 858.4,573.0 863.6,573.0" fill="#231f20"/>
<line x1="861.0" y1="600.0" x2="861.0" y2="610.0" stroke="#1c1c1c" stroke-width="1" stroke-linecap="butt"/>
<polygon points="861.0,594.2 863.6,602.6 858.4,602.6" fill="#231f20"/>
<text x="862.8" y="592.6" font-size="13.5" font-weight="bold" fill="#231f20" stroke="#231f20" stroke-width="0.4" textLength="6.4" lengthAdjust="spacingAndGlyphs">J</text>
<text x="871.0" y="595.6" font-size="17.5" font-weight="normal" fill="#231f20" textLength="14.0" lengthAdjust="spacingAndGlyphs" >**</text>
<line x1="801.0" y1="716.4" x2="865.0" y2="736.4" stroke="#1c1c1c" stroke-width="1" stroke-linecap="butt"/>
<line x1="816.0" y1="732.0" x2="865.0" y2="747.0" stroke="#1c1c1c" stroke-width="1" stroke-linecap="butt"/>
<line x1="861.0" y1="719.0" x2="861.0" y2="730.0" stroke="#1c1c1c" stroke-width="1" stroke-linecap="butt"/>
<polygon points="861.0,735.8 858.4,727.4 863.6,727.4" fill="#231f20"/>
<line x1="861.0" y1="753.0" x2="861.0" y2="764.0" stroke="#1c1c1c" stroke-width="1" stroke-linecap="butt"/>
<polygon points="861.0,747.6 863.6,756.0 858.4,756.0" fill="#231f20"/>
<text x="862.8" y="746.8" font-size="13.5" font-weight="bold" fill="#231f20" stroke="#231f20" stroke-width="0.4" textLength="6.4" lengthAdjust="spacingAndGlyphs">J</text>
<text x="871.0" y="749.8" font-size="17.5" font-weight="normal" fill="#231f20" textLength="14.0" lengthAdjust="spacingAndGlyphs" >**</text>
<text transform="translate(840,661.4) rotate(-90) scale(0.84,1)" font-size="13.8" fill="#231f20" textLength="148.8" lengthAdjust="spacing">Bottom of oven cutout</text>
<line x1="833.0" y1="663.0" x2="833.0" y2="668.0" stroke="#1c1c1c" stroke-width="1" stroke-linecap="butt"/>
<polygon points="833.0,673.4 830.5,665.4 835.5,665.4" fill="#231f20"/>
<line x1="818.0" y1="681.0" x2="842.0" y2="669.6" stroke="#1c1c1c" stroke-width="1" stroke-linecap="butt"/>
<line x1="816.0" y1="721.0" x2="842.0" y2="709.6" stroke="#1c1c1c" stroke-width="1" stroke-linecap="butt"/>
<line x1="833.0" y1="680.0" x2="833.0" y2="684.0" stroke="#1c1c1c" stroke-width="1" stroke-linecap="butt"/>
<polygon points="833.0,675.0 835.5,683.0 830.5,683.0" fill="#231f20"/>
<line x1="833.0" y1="701.0" x2="833.0" y2="708.0" stroke="#1c1c1c" stroke-width="1" stroke-linecap="butt"/>
<polygon points="833.0,713.0 830.5,705.0 835.5,705.0" fill="#231f20"/>
<text x="825.4" y="697.4" font-size="13.5" font-weight="bold" fill="#231f20" textLength="7.6" lengthAdjust="spacingAndGlyphs" stroke="#231f20" stroke-width="0.35">H</text>
<text x="834.4" y="697.4" font-size="13.5" font-weight="bold" fill="#231f20" textLength="5.2" lengthAdjust="spacingAndGlyphs" >*</text>
<text x="786.6" y="714.3" font-size="13.5" font-weight="bold" fill="#231f20" textLength="10.4" lengthAdjust="spacingAndGlyphs" stroke="#231f20" stroke-width="0.35">G</text>
<line x1="792.4" y1="716.5" x2="792.4" y2="720.0" stroke="#1c1c1c" stroke-width="1" stroke-linecap="butt"/>
<polygon points="792.4,725.4 789.9,717.4 794.9,717.4" fill="#231f20"/>
<text x="774.6" y="752.4" font-size="13.5" font-weight="bold" fill="#231f20" textLength="10.0" lengthAdjust="spacingAndGlyphs" stroke="#231f20" stroke-width="0.35">D</text>
<polygon points="779.6,732.8 782.1,740.8 777.1,740.8" fill="#231f20"/>
<line x1="779.6" y1="738.0" x2="779.6" y2="741.0" stroke="#1c1c1c" stroke-width="1" stroke-linecap="butt"/>
<line x1="779.6" y1="754.0" x2="779.6" y2="756.0" stroke="#1c1c1c" stroke-width="1" stroke-linecap="butt"/>
<polygon points="779.6,760.8 777.1,752.8 782.1,752.8" fill="#231f20"/>
<line x1="699.7" y1="622.5" x2="718.8" y2="629.8" stroke="#231f20" stroke-width="1.0" stroke-linecap="butt"/>
<line x1="732.4" y1="635.0" x2="756.0" y2="644.0" stroke="#231f20" stroke-width="1.0" stroke-linecap="butt"/>
<polygon points="699.7,622.5 708.5,623.1 706.6,627.9" fill="#231f20"/>
<polygon points="756.0,644.0 747.2,643.4 749.1,638.6" fill="#231f20"/>
<text x="720.4" y="637.6" font-size="13.5" font-weight="bold" fill="#231f20" textLength="9.6" lengthAdjust="spacingAndGlyphs" stroke="#231f20" stroke-width="0.35">E</text>
<line x1="758.7" y1="644.0" x2="781.4" y2="635.4" stroke="#231f20" stroke-width="1.0" stroke-linecap="butt"/>
<line x1="795.1" y1="630.2" x2="815.5" y2="622.5" stroke="#231f20" stroke-width="1.0" stroke-linecap="butt"/>
<polygon points="758.7,644.0 765.6,638.6 767.5,643.5" fill="#231f20"/>
<polygon points="815.5,622.5 808.6,627.9 806.7,623.0" fill="#231f20"/>
<text x="784.0" y="638.3" font-size="13.5" font-weight="bold" fill="#231f20" textLength="9.0" lengthAdjust="spacingAndGlyphs" stroke="#231f20" stroke-width="0.35">F</text>
<path d="M696.0,746.0 L756.6,772.0 L756.6,801.0 L696.0,770.6 Z" stroke="#9a9a9a" stroke-width="1.4" fill="#fff" stroke-linejoin="miter"/>
<path d="M698.0,748.6 L754.0,773.0 L754.0,799.0 L698.0,770.8 Z" stroke="#b5b5b5" stroke-width="0.8" fill="none" stroke-linejoin="miter"/>
<path d="M713,765.4 L732.6,774.6 Q733.4,777.4 730.4,776.6 L714,768.8 Q712.2,767 713,765.4 Z" stroke="#666" stroke-width="1" fill="#fff" />
<path d="M693.0,788.6 L771.0,827.4 L777.4,828.6 L777.4,844.0" stroke="#999" stroke-width="0.8" fill="none" stroke-linejoin="miter"/>
<path d="M693.0,797.0 L693.0,788.6 L690.0,787.0 L690.0,530.4 L771.0,507.6 L848.6,525.6 L848.6,809.4 L778.6,844.6 L693.0,797.0" stroke="#1c1c1c" stroke-width="1.8" fill="none" stroke-linejoin="miter"/>
<line x1="637.7" y1="546.3" x2="716.0" y2="675.0" stroke="#1c1c1c" stroke-width="1.2" stroke-linecap="butt"/>
<line x1="637.7" y1="546.3" x2="751.0" y2="700.0" stroke="#1c1c1c" stroke-width="1.2" stroke-linecap="butt"/>
<polygon points="719.5,680.8 712.1,675.3 718.1,671.7" fill="#231f20"/>
<polygon points="754.1,705.6 746.8,700.1 752.8,696.5" fill="#231f20"/>
<text transform="translate(489.9,836.6) scale(0.82,1)" font-size="12.2" font-weight="normal" fill="#231f20" stroke="#231f20" stroke-width="0.2" textLength="276.2" lengthAdjust="spacing"><tspan font-weight="bold">H*</tspan> =10-1/8" (25.7 cm) Min. <tspan font-weight="bold">is a Critical</tspan></text>
<text transform="translate(489.9,851.9) scale(0.82,1)" font-size="12.2" font-weight="normal" fill="#231f20" stroke="#231f20" stroke-width="0.2" textLength="231.1" lengthAdjust="spacing"><tspan font-weight="bold">dimension and must be applied</tspan>.</text>
<text transform="translate(489.9,878.6) scale(0.82,1)" font-size="12.2" font-weight="normal" fill="#231f20" stroke="#231f20" stroke-width="0.2" textLength="152.6" lengthAdjust="spacing"><tspan font-weight="bold">J**</tspan> = 3" (7.6cm) Max.</text>
<text transform="translate(621.6,878.6) scale(0.82,1)" font-size="12.2" font-weight="bold" fill="#231f20" stroke="#231f20" stroke-width="0.2" textLength="312.2" lengthAdjust="spacing">Electrical Junction Box for wall oven can be</text>
<text transform="translate(489.9,893.6) scale(0.82,1)" font-size="12.2" font-weight="bold" fill="#231f20" stroke="#231f20" stroke-width="0.2" textLength="464.3" lengthAdjust="spacing">lower than warmer drawer cutout or higher than walloven cutout.</text>
</svg>
</body></html>
